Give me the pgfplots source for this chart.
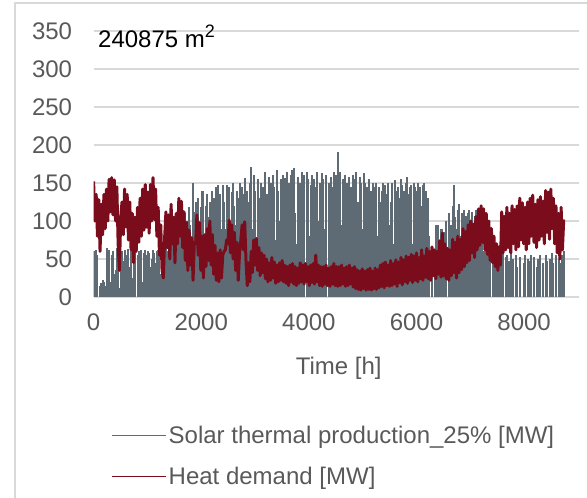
\documentclass[border=0pt]{standalone}
\usepackage{pgfplots}
\pgfplotsset{compat=1.18}
\usepackage{pgfplotstable}
\usepackage{fontspec}
\setmainfont{Liberation Sans}

\definecolor{solargray}{RGB}{94,107,117}
\definecolor{demandred}{RGB}{122,12,28}
\definecolor{textgray}{RGB}{89,89,89}
\definecolor{gridgray}{RGB}{217,217,217}

% daily values: h = hour of year, s = solar thermal peak [MW], d = heat demand [MW]
\pgfplotstableread{
h s d
0 60 152
24 58 100
48 62 135
72 55 80
96 0 128
120 15 60
144 18 122
168 22 82
192 20 135
216 15 90
240 65 142
264 40 100
288 62 155
312 20 112
336 55 157
360 60 108
384 30 154
408 35 100
432 64 145
456 52 70
480 12 35
504 58 105
528 60 125
552 48 82
576 62 142
600 0 92
624 55 135
648 63 75
672 40 125
696 60 62
720 25 110
744 58 45
768 62 105
792 0 60
816 55 118
840 60 72
864 48 130
888 62 80
912 20 142
936 58 88
960 62 148
984 55 92
1008 60 138
1032 58 84
1056 40 148
1080 50 100
1104 62 157
1128 58 102
1152 45 142
1176 60 80
1200 62 118
1224 55 55
1248 30 95
1272 60 35
1296 58 25
1320 62 78
1344 95 112
1368 60 65
1392 100 108
1416 58 50
1440 62 122
1464 110 70
1488 85 105
1512 0 45
1536 105 110
1560 112 70
1584 90 130
1608 60 80
1632 108 126
1656 115 65
1680 80 112
1704 110 48
1728 55 98
1752 100 35
1776 118 88
1800 95 42
1824 70 78
1848 150 22
1872 112 72
1896 125 70
1920 100 108
1944 130 55
1968 85 98
1992 118 35
2016 140 80
2040 139 25
2064 60 82
2088 120 40
2112 135 90
2136 105 48
2160 125 100
2184 95 42
2208 140 82
2232 130 30
2256 80 68
2280 145 22
2304 147 58
2328 100 20
2352 135 62
2376 90 25
2400 147 55
2424 125 60
2448 90 62
2472 147 75
2496 115 70
2520 145 101
2544 70 58
2568 138 95
2592 150 50
2616 120 85
2640 95 35
2664 140 72
2688 130 22
2712 150 58
2736 80 75
2760 145 95
2784 135 62
2808 156 99
2832 105 48
2856 140 15
2880 125 45
2904 150 20
2928 171 60
2952 90 32
2976 160 75
3000 140 42
3024 70 77
3048 155 35
3072 130 65
3096 0 28
3120 150 58
3144 145 32
3168 80 55
3192 165 24
3216 135 50
3240 60 20
3264 158 45
3288 150 22
3312 95 52
3336 160 25
3360 145 46
3384 75 18
3408 167 42
3432 140 20
3456 100 45
3480 155 22
3504 0 48
3528 160 20
3552 156 42
3576 90 18
3600 165 40
3624 150 15
3648 85 42
3672 160 20
3696 167 44
3720 170 17
3744 110 40
3768 70 15
3792 158 38
3816 120 18
3840 150 45
3864 165 20
3888 90 42
3912 160 17
3936 0 44
3960 165 20
3984 155 40
4008 80 15
4032 148 42
4056 160 19
4080 60 44
4104 155 17
4128 145 55
4152 165 20
4176 100 42
4200 150 15
4224 70 40
4248 163 14
4272 155 40
4296 90 17
4320 160 42
4344 0 15
4368 150 38
4392 85 14
4416 158 40
4440 145 17
4464 165 44
4488 75 15
4512 160 40
4536 191 14
4560 150 40
4584 164 15
4608 95 42
4632 155 17
4656 60 38
4680 160 14
4704 150 40
4728 80 15
4752 158 42
4776 145 17
4800 100 38
4824 160 13
4848 155 40
4872 165 11
4896 70 36
4920 125 10
4944 158 34
4968 150 9
4992 90 37
5016 163 11
5040 150 34
5064 65 9
5088 145 36
5112 155 10
5136 0 38
5160 140 9
5184 150 34
5208 85 11
5232 145 38
5256 150 10
5280 80 36
5304 145 12
5328 125 42
5352 140 14
5376 150 44
5400 60 12
5424 148 46
5448 135 15
5472 150 42
5496 95 14
5520 125 48
5544 150 15
5568 70 44
5592 154 17
5616 140 49
5640 95 14
5664 145 46
5688 130 19
5712 155 52
5736 148 16
5760 140 49
5784 85 20
5808 150 54
5832 158 18
5856 135 52
5880 145 22
5904 148 56
5928 70 19
5952 150 54
5976 145 22
6000 140 58
6024 150 20
6048 90 52
6072 145 24
6096 120 62
6120 148 22
6144 150 54
6168 140 26
6192 100 64
6216 130 24
6240 80 60
6264 0 22
6288 45 66
6312 0 28
6336 60 62
6360 95 24
6384 0 60
6408 95 30
6432 70 74
6456 90 26
6480 90 84
6504 85 28
6528 60 70
6552 100 24
6576 0 64
6600 110 22
6624 75 62
6648 95 28
6672 120 76
6696 147 32
6720 105 72
6744 90 25
6768 115 80
6792 123 32
6816 80 76
6840 110 36
6864 0 90
6888 115 40
6912 107 86
6936 95 45
6960 110 95
6984 115 48
7008 100 100
7032 112 58
7056 85 96
7080 107 52
7104 115 106
7128 90 62
7152 110 116
7176 95 68
7200 80 120
7224 85 72
7248 60 116
7272 0 62
7296 75 110
7320 70 56
7344 55 100
7368 60 48
7392 0 90
7416 65 45
7440 50 80
7464 60 40
7488 48 70
7512 55 35
7536 0 66
7560 50 42
7584 45 112
7608 60 58
7632 0 106
7656 52 62
7680 55 118
7704 0 65
7728 48 110
7752 60 58
7776 0 120
7800 50 70
7824 0 115
7848 55 62
7872 40 120
7896 0 66
7920 52 130
7944 0 75
7968 0 124
7992 45 70
8016 55 118
8040 0 62
8064 50 125
8088 0 70
8112 48 130
8136 55 80
8160 0 134
8184 52 72
8208 0 122
8232 40 65
8256 50 128
8280 0 75
8304 55 132
8328 0 80
8352 45 126
8376 0 70
8400 55 140
8424 48 85
8448 0 138
8472 50 76
8496 0 142
8520 58 90
8544 45 130
8568 0 70
8592 55 120
8616 0 58
8640 50 110
8664 0 50
8688 45 118
8712 55 62
8736 60 102
}\hourly

\begin{document}
\begin{tikzpicture}
\begin{axis}[
    at={(0,0)}, anchor=south west,
    scale only axis,
    width=485.4pt,
    height=266pt,
    xmin=0, xmax=9020,
    ymin=0, ymax=350,
    xtick={0,2000,...,8000},
    ytick={0,50,...,350},
    axis line style={draw=none},
    major tick length=0pt,
    ymajorgrids,
    grid style={color=gridgray, line width=1.3pt},
    tick label style={font=\fontsize{24}{28}\selectfont, text=textgray},
    /pgf/number format/assume math mode=true,
    /pgf/number format/1000 sep={},
    xticklabel style={yshift=-13pt},
    yticklabel style={xshift=-18pt},
    xlabel={Time [h]},
    xlabel style={at={(axis description cs:0.505,-0.293)}, anchor=base,
        font=\fontsize{24}{28}\selectfont, text=textgray},
    legend style={at={(axis description cs:0.0297,-0.47)}, anchor=north west,
        draw=none, fill=none, font=\fontsize{24}{28}\selectfont,
        text=textgray, row sep=18pt},
    legend cell align=left,
    legend image code/.code={\draw[#1, line width=1.5pt] (0pt,0pt) -- (54pt,0pt);},
]
\addplot[ycomb, color=solargray, line width=2pt,
    legend image code/.code={\draw[color=solargray, line width=1.5pt] (0pt,0pt) -- (54pt,0pt);}]
    table[x=h, y=s] {\hourly};
\addlegendentry{Solar thermal production\_25\% [MW]}
\addplot[color=demandred, line width=3pt, line join=round,
    legend image code/.code={\draw[color=demandred, line width=1.5pt] (0pt,0pt) -- (54pt,0pt);}]
    table[x=h, y=d] {\hourly};
\addlegendentry{Heat demand [MW]}
\end{axis}
\node[anchor=base west, inner sep=0pt, font=\fontsize{24}{28}\selectfont]
    at (4.4pt,249pt) {240875 m\raisebox{0.42em}{\fontsize{18}{18}\selectfont 2}};
\draw[gridgray, line width=1.5pt] (-78.6pt,-201pt) -- (-78.6pt,294pt) -- (493.4pt,294pt);
\pgfresetboundingbox
\path[use as bounding box] (-93.6pt,-201pt) rectangle (493.4pt,297pt);
\end{tikzpicture}
\end{document}
